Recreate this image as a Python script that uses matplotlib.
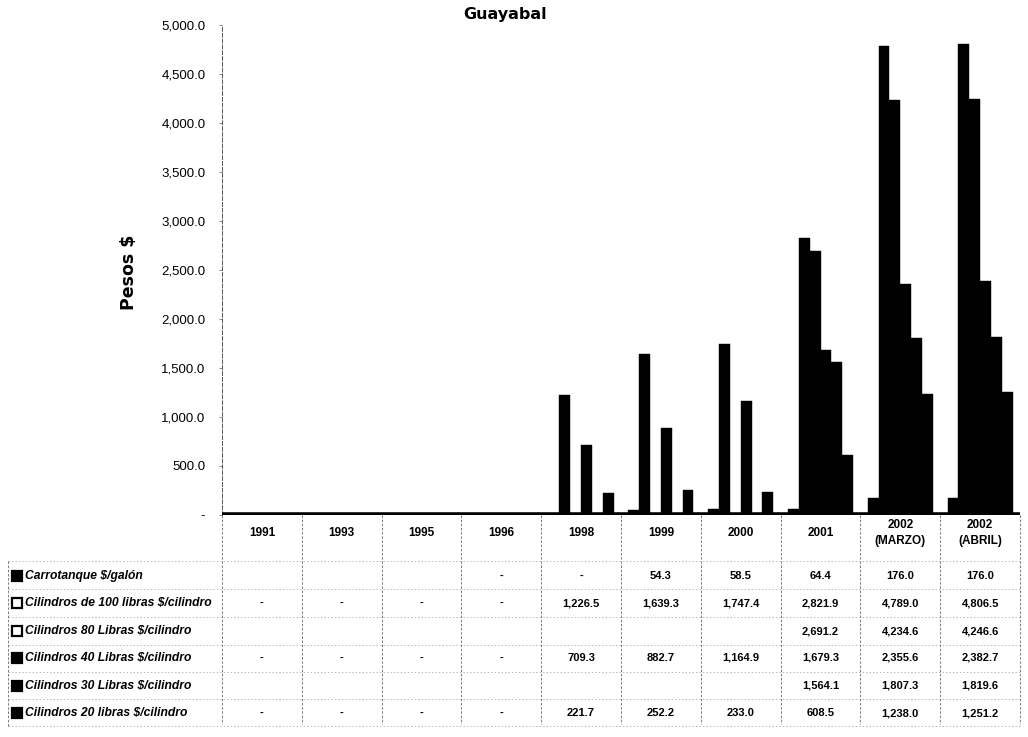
import matplotlib
matplotlib.use("Agg")
import matplotlib.pyplot as plt
import matplotlib.transforms as mtransforms
from matplotlib.patches import Rectangle
import numpy as np

categories = ["1991", "1993", "1995", "1996", "1998", "1999", "2000", "2001",
              "2002\n(MARZO)", "2002\n(ABRIL)"]
series_names = ["Carrotanque $/galón",
                "Cilindros de 100 libras $/cilindro",
                "Cilindros 80 Libras $/cilindro",
                "Cilindros 40 Libras $/cilindro",
                "Cilindros 30 Libras $/cilindro",
                "Cilindros 20 libras $/cilindro"]
carrotanque = [None, None, None, 0, 0, 54.3, 58.5, 64.4, 176.0, 176.0]
cil_100 = [0, 0, 0, 0, 1226.5, 1639.3, 1747.4, 2821.9, 4789.0, 4806.5]
cil_80 = [None, None, None, None, None, None, None, 2691.2, 4234.6, 4246.6]
cil_40 = [0, 0, 0, 0, 709.3, 882.7, 1164.9, 1679.3, 2355.6, 2382.7]
cil_30 = [None, None, None, None, None, None, None, 1564.1, 1807.3, 1819.6]
cil_20 = [0, 0, 0, 0, 221.7, 252.2, 233.0, 608.5, 1238.0, 1251.2]
series = [carrotanque, cil_100, cil_80, cil_40, cil_30, cil_20]
legend_white = [False, True, True, False, False, False]
yticks = [0, 500, 1000, 1500, 2000, 2500, 3000, 3500, 4000, 4500, 5000]

W, H = 1028, 737
fig = plt.figure(figsize=(W / 100, H / 100), dpi=100)
left_px, right_px, top_px, bot_px = 222, 1020, 25, 515
ax = fig.add_axes([left_px / W, 1 - bot_px / H, (right_px - left_px) / W,
                   (bot_px - top_px) / H])

n = len(categories)
x = np.arange(n)
bw = 0.136
for j, vals in enumerate(series):
    xs = [x[i] + (j - 2.5) * bw for i in range(n) if vals[i] is not None]
    hs = [vals[i] for i in range(n) if vals[i] is not None]
    ax.bar(xs, hs, width=bw, color="black", edgecolor="black", linewidth=0.3,
           zorder=3)

ax.set_xlim(-0.5, n - 0.5)
ax.set_ylim(0, 5000)
ax.axhline(0, color="black", lw=4, zorder=4)
ax.set_xticks([])
ax.set_yticks(yticks)
ax.set_yticklabels(["-" if v == 0 else f"{v:,.1f}" for v in yticks],
                   fontfamily="Liberation Sans", fontsize=9.5)
ax.tick_params(axis="y", length=2, width=0.6, color="#777777", pad=10)
for s in ["top", "right", "bottom"]:
    ax.spines[s].set_visible(False)
ax.spines["left"].set_linestyle((0, (4, 2)))
ax.spines["left"].set_color("#555555")
ax.spines["left"].set_linewidth(0.7)

fig.text(505 / W, 1 - 15 / H, "Guayabal", ha="center", va="center",
         fontsize=11.5, fontweight="bold", fontfamily="DejaVu Sans")
fig.text(129 / W, 1 - 272 / H, "Pesos $", ha="center", va="center",
         rotation=90, fontsize=12.5, fontweight="bold", fontfamily="DejaVu Sans")

# data table
trans = mtransforms.blended_transform_factory(ax.transData, fig.transFigure)
def fy(py):
    return 1 - py / H

header_y = 533
row_y = [576, 603, 631, 658, 686, 713]
row_lines = [561, 589, 617, 645, 672, 699, 726]

for i, c in enumerate(categories):
    fig.text(x[i], fy(header_y), c, transform=trans, ha="center", va="center",
             fontsize=8.5, fontweight="bold", fontfamily="Liberation Sans",
             linespacing=1.5)

def fmt(v):
    if v is None:
        return ""
    if v == 0:
        return "-"
    return f"{v:,.1f}"

for j, vals in enumerate(series):
    for i in range(n):
        fig.text(x[i], fy(row_y[j]), fmt(vals[i]), transform=trans,
                 ha="center", va="center", fontsize=8, fontweight="bold",
                 fontfamily="Liberation Sans")
    # legend key + label
    fig.patches.append(Rectangle((12 / W, fy(row_y[j] + 5)), 10 / W, 10 / H,
                                 transform=fig.transFigure,
                                 facecolor="white" if legend_white[j] else "black",
                                 edgecolor="black", linewidth=1.6))
    fig.text(25 / W, fy(row_y[j]), series_names[j], ha="left", va="center",
             fontsize=8.7, fontweight="bold", fontstyle="italic",
             fontfamily="Liberation Sans")

grid_kw = dict(color="#666666", lw=0.6, linestyle=(0, (3, 2)))
for b in np.arange(-0.5, n + 0.5, 1.0):
    fig.add_artist(plt.Line2D([b, b], [fy(bot_px), fy(724)], transform=trans,
                              **grid_kw))
for ly in row_lines:
    fig.add_artist(plt.Line2D([8 / W, right_px / W], [fy(ly), fy(ly)],
                              transform=fig.transFigure,
                              color="#999999", lw=0.5, linestyle=(0, (2, 3))))
fig.add_artist(plt.Line2D([8 / W, 8 / W], [fy(561), fy(726)],
                          transform=fig.transFigure, **grid_kw))

fig.savefig("out.png", dpi=100)
